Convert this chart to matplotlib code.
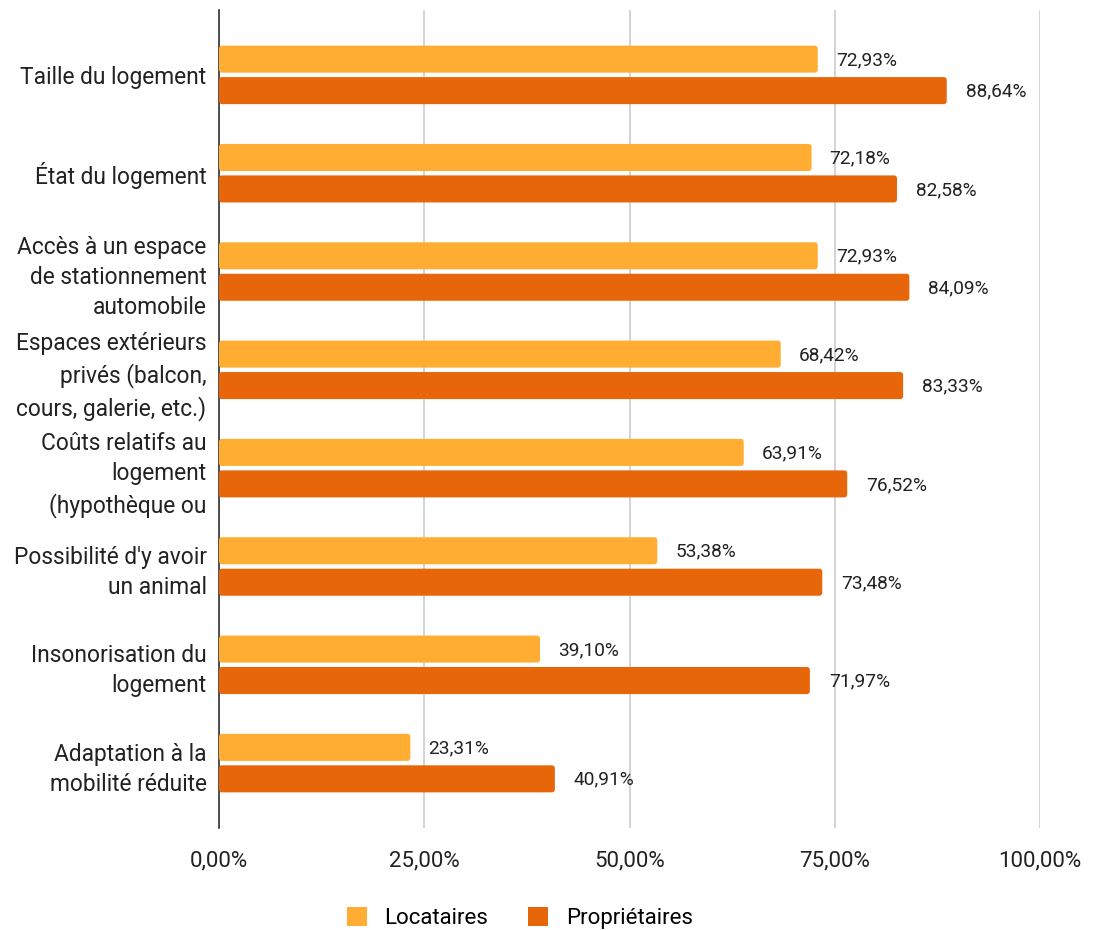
import numpy as np
import matplotlib
matplotlib.use("Agg")
import matplotlib.pyplot as plt
from matplotlib.patches import FancyBboxPatch, Patch

plt.rcParams['font.family'] = ['Roboto', 'DejaVu Sans']

# criteria, top to bottom
categories = [
    "Taille du logement",
    "État du logement",
    "Accès à un espace\nde stationnement\nautomobile",
    "Espaces extérieurs\nprivés (balcon,\ncours, galerie, etc.)",
    "Coûts relatifs au\nlogement\n(hypothèque ou",
    "Possibilité d'y avoir\nun animal",
    "Insonorisation du\nlogement",
    "Adaptation à la\nmobilité réduite",
]
locataires = [72.93, 72.18, 72.93, 68.42, 63.91, 53.38, 39.10, 23.31]
proprietaires = [88.64, 82.58, 84.09, 83.33, 76.52, 73.48, 71.97, 40.91]
xticks = [0, 25, 50, 75, 100]

c_loc = "#FFAE33"
c_pro = "#E8660A"

def pct(v):
    return ("%.2f%%" % v).replace(".", ",")

fig = plt.figure(figsize=(10.99, 9.30), dpi=100)
ax = fig.add_axes([219/1099, 102/930, 821/1099, 818/930])

y = np.arange(len(categories))
h = 0.275
off = 0.16
bars_loc = ax.barh(y - off, locataires, height=h, color=c_loc)
bars_pro = ax.barh(y + off, proprietaires, height=h, color=c_pro)

# swap the plain rectangles for slightly rounded ones
aspect = (1/98.3) / (100/821)
for bars in (bars_loc, bars_pro):
    for r in bars:
        r.set_visible(False)
        p = FancyBboxPatch((r.get_x(), r.get_y()), r.get_width(), r.get_height(),
                           boxstyle="round,pad=0,rounding_size=0.35",
                           mutation_aspect=aspect, facecolor=r.get_facecolor(),
                           edgecolor="none", zorder=3)
        ax.add_patch(p)

for yi, v in zip(y - off, locataires):
    ax.text(v + 2.2, yi + 0.01, pct(v), va="center", ha="left", fontsize=13.8, color="#222222")
for yi, v in zip(y + off, proprietaires):
    ax.text(v + 2.3, yi + 0.01, pct(v), va="center", ha="left", fontsize=13.8, color="#222222")

ax.set_xlim(0, 100)
ax.set_ylim(len(categories) - 1 + 0.66, -0.66)
ax.set_xticks(xticks)
ax.set_xticklabels([pct(t) for t in xticks], fontsize=16, color="#222222")
ax.set_yticks(y)
ax.set_yticklabels(categories, fontsize=16.4, color="#222222", linespacing=1.4)
ax.tick_params(axis="both", length=0)
ax.tick_params(axis="x", pad=16)
ax.tick_params(axis="y", pad=9)
ax.grid(axis="x", color="#cccccc", linewidth=1.2, zorder=0)
ax.set_axisbelow(True)
for s in ["top", "right", "bottom"]:
    ax.spines[s].set_visible(False)
ax.spines["left"].set_color("#333333")
ax.spines["left"].set_linewidth(1.2)

handles = [Patch(facecolor=c_loc, label="Locataires"),
           Patch(facecolor=c_pro, label="Propriétaires")]
fig.legend(handles=handles, loc="center", bbox_to_anchor=(0.473, 12/930), ncol=2,
           frameon=False, fontsize=16, handlelength=0.9, handleheight=0.9,
           columnspacing=1.8, handletextpad=0.8)

fig.savefig("out.png", dpi=100)
